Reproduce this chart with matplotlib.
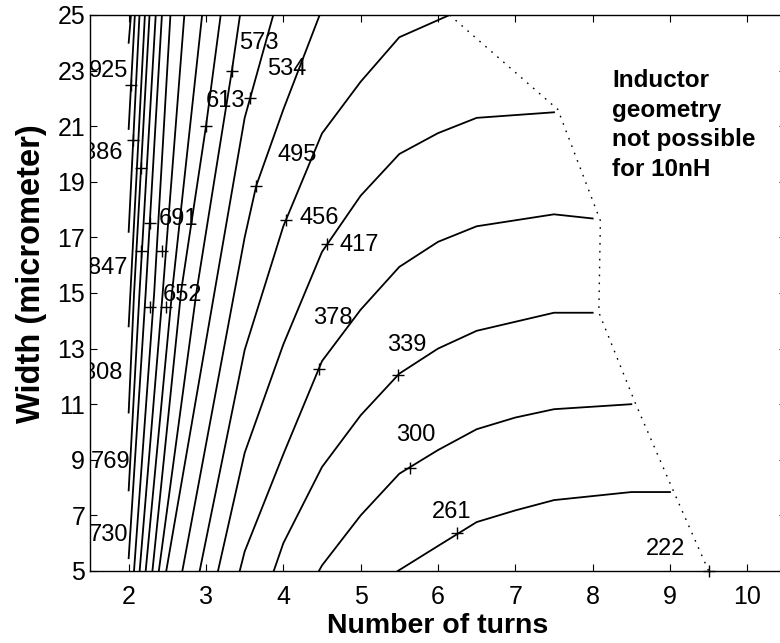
import matplotlib
matplotlib.use('Agg')
import matplotlib.pyplot as plt

plt.rcParams['font.family'] = ['Liberation Sans', 'DejaVu Sans']

# Contour lines: (turns, width) vertices for each level
n_261 = [5.48, 6.0, 6.5, 7.0, 7.5, 8.5, 9.0]
w_261 = [5.0, 5.9, 6.76, 7.18, 7.55, 7.84, 7.84]
n_300 = [4.46, 4.5, 5.0, 5.5, 6.0, 6.5, 7.0, 7.5, 8.5]
w_300 = [5.0, 5.2, 7.0, 8.5, 9.35, 10.1, 10.52, 10.82, 11.0]
n_339 = [3.876, 4.0, 4.5, 5.0, 5.5, 6.0, 6.5, 7.5, 8.0]
w_339 = [5.0, 6.0, 8.74, 10.6, 12.1, 13.0, 13.64, 14.29, 14.29]
n_378 = [3.436, 3.5, 4.0, 4.5, 5.0, 5.5, 6.0, 6.5, 7.5, 8.0]
w_378 = [5.0, 5.7, 9.2, 12.55, 14.4, 15.94, 16.84, 17.4, 17.83, 17.68]
n_417 = [3.155, 3.5, 4.0, 4.5, 5.0, 5.5, 6.0, 6.5, 7.5]
w_417 = [5.0, 9.25, 13.15, 16.48, 18.5, 20.0, 20.75, 21.3, 21.5]
n_456 = [2.918, 3.5, 4.0, 4.5, 5.0, 5.5, 6.15]
w_456 = [5.0, 12.95, 17.4, 20.74, 22.6, 24.2, 25.0]
n_495 = [2.694, 3.5, 3.65, 4.0, 4.47]
w_495 = [5.0, 17.0, 18.86, 21.6, 25.0]
n_534 = [2.486, 3.5, 3.87]
w_534 = [5.0, 21.3, 25.0]
n_573 = [2.39, 2.88, 3.335, 3.44]
w_573 = [5.0, 15.1, 23.0, 25.0]
n_613 = [2.307, 2.68, 3.0, 3.19]
w_613 = [5.0, 15.1, 21.0, 25.0]
n_652 = [2.22, 2.56, 2.95]
w_652 = [5.0, 15.0, 25.0]
n_691 = [2.142, 2.44, 2.72]
w_691 = [5.0, 15.0, 25.0]
n_730 = [2.069, 2.33, 2.54]
w_730 = [5.0, 15.0, 25.0]
n_769 = [2.0, 2.22, 2.43]
w_769 = [5.46, 15.0, 25.0]
n_808 = [2.0, 2.14, 2.35]
w_808 = [7.9, 15.0, 25.0]
n_847 = [2.0, 2.07, 2.27]
w_847 = [10.7, 15.0, 25.0]
n_886 = [2.0, 2.21]
w_886 = [13.8, 25.0]
n_925 = [2.0, 2.14]
w_925 = [17.2, 25.0]
n_964 = [2.0, 2.08]
w_964 = [20.9, 25.0]
n_1003 = [2.0, 2.03]
w_1003 = [24.0, 25.0]

contours = [(n_261, w_261), (n_300, w_300), (n_339, w_339), (n_378, w_378),
            (n_417, w_417), (n_456, w_456), (n_495, w_495), (n_534, w_534),
            (n_573, w_573), (n_613, w_613), (n_652, w_652), (n_691, w_691),
            (n_730, w_730), (n_769, w_769), (n_808, w_808), (n_847, w_847),
            (n_886, w_886), (n_925, w_925), (n_964, w_964), (n_1003, w_1003)]

# feasibility boundary (dotted)
bound_n = [6.15, 7.55, 8.1, 8.08, 8.55, 9.05, 9.5]
bound_w = [25.0, 21.6, 17.6, 14.3, 11.05, 7.84, 5.0]

# contour labels
label_text = ['222', '261', '300', '339', '378', '417', '456', '495', '534',
              '573', '613', '652', '691', '730', '769', '808', '847', '886',
              '925']
label_n = [8.94, 6.18, 5.71, 5.59, 4.64, 4.98, 4.47, 4.18, 4.04,
           3.69, 3.25, 2.70, 2.65, 1.74, 1.76, 1.665, 1.73, 1.66, 1.74]
label_w = [5.78, 7.12, 9.88, 13.13, 14.09, 16.72, 17.69, 19.96, 23.05,
           24.01, 21.92, 14.92, 17.66, 6.29, 8.92, 12.11, 15.9, 20.05, 23.0]

# '+' label markers
plus_n = [9.5, 6.24, 5.64, 5.48, 4.46, 4.56, 4.03, 3.65, 3.57, 3.33, 3.0,
          2.03, 2.06, 2.155, 2.28, 2.16, 2.43, 2.28, 2.48]
plus_w = [5.0, 6.35, 8.72, 12.04, 12.26, 16.75, 17.62, 18.86, 22.0, 23.0,
          21.0, 22.48, 20.5, 19.5, 17.5, 16.5, 16.5, 14.5, 14.5]

fig = plt.figure(figsize=(7.8, 6.43), dpi=100)
ax = fig.add_axes([0.11538, 0.11198, 0.8923, 0.8647])

for xs, ys in contours:
    ax.plot(xs, ys, color='k', lw=1.3)

ax.plot(bound_n, bound_w, color='k', lw=1.0, linestyle=(0, (1.2, 4.5)))
ax.plot(plus_n, plus_w, 'k+', ms=9, mew=1.0, clip_on=False)

for s, x, y in zip(label_text, label_n, label_w):
    ax.text(x, y, s, ha='center', va='center', fontsize=17, clip_on=True)

ax.text(8.25, 23.05, "Inductor\ngeometry\nnot possible\nfor 10nH",
        fontsize=17.5, fontweight='bold', ha='left', va='top',
        linespacing=1.36)

ax.set_xlim(1.5, 10.5)
ax.set_ylim(5, 25)
ax.set_xticks(range(2, 11))
ax.set_yticks(range(5, 26, 2))
ax.tick_params(direction='in', length=5, width=0.8, top=True, right=True,
               labelsize=18)
ax.tick_params(axis='x', pad=10)
ax.tick_params(axis='y', pad=3.5)
for sp in ax.spines.values():
    sp.set_linewidth(1.0)

ax.set_xlabel('Number of turns', fontsize=20.5, fontweight='bold', labelpad=3)
ax.set_ylabel('Width (micrometer)', fontsize=23.5, fontweight='bold')
ax.yaxis.set_label_coords(-0.062, 0.535)

fig.savefig('out.png', dpi=100)
